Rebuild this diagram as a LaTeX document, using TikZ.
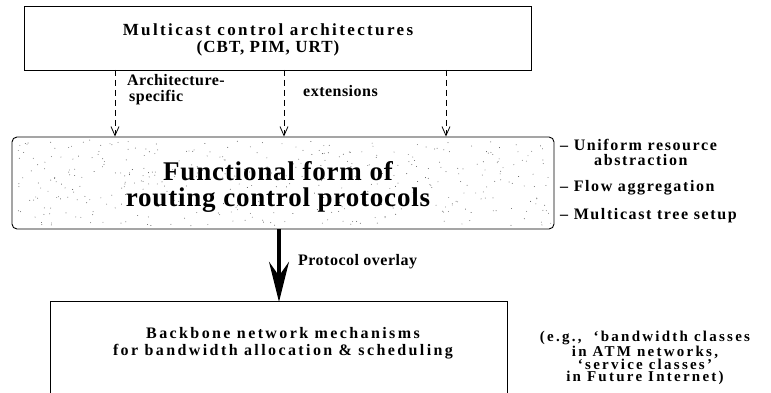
\documentclass[tikz,border=0pt]{standalone}
\usepackage{fontspec}
\setmainfont{Liberation Serif}
\usetikzlibrary{arrows.meta,calc}
\begin{document}
\begin{tikzpicture}[x=1pt,y=-1pt,
  frame/.style={draw, line width=0.9pt, inner sep=0pt},
  txt/.style={inner sep=0pt, font=\bfseries\fontsize{16}{16}\selectfont\addfontfeatures{LetterSpace=3}},
  feat/.style={inner sep=0pt, anchor=west, font=\bfseries\fontsize{16}{16}\selectfont\addfontfeatures{LetterSpace=10}},
  dasharrow/.style={line width=0.8pt, dash pattern=on 6pt off 4pt,
    -{Straight Barb[length=9pt,width=8pt,line width=0.8pt]}},
  bigarrow/.style={line width=3.8pt,
    -{Stealth[length=40pt,width=20pt,inset=14pt]}}]
\useasboundingbox (0,0) rectangle (771,393);

% upper box: multicast architectures
\node[frame, minimum width=507pt, minimum height=64pt] (arch) at (277.5,38) {};
\node[inner sep=0pt, align=center, font=\bfseries\fontsize{17}{17}\selectfont]
  (archtxt) at (268,40)
  {{\addfontfeatures{LetterSpace=14}Multicast control architectures}\\
   {\addfontfeatures{LetterSpace=6}(CBT, PIM, URT)}};

% middle box: functional form, stippled
\node[frame, rounded corners=5pt, minimum width=542pt, minimum height=92pt] (fn) at (283,183) {};
\begin{scope}
  \pgfmathsetseed{42}
  \clip[rounded corners=5pt] (fn.south west) rectangle (fn.north east);
  \foreach \i in {1,...,420}{
    \pgfmathsetmacro{\px}{15+536*rnd}
    \pgfmathsetmacro{\py}{140+86*rnd}
    \fill[black!70] (\px,\py) circle (0.45pt);
  }
\end{scope}
\node[inner sep=0pt, align=center,
      font=\bfseries\fontsize{27}{26}\selectfont\addfontfeatures{LetterSpace=3}]
  (fntxt) at (278,187) {Functional form of\\routing control protocols};

% bottom box: backbone mechanisms, open at the lower edge
\node[minimum width=456pt, minimum height=110pt, inner sep=0pt] (bb) at (279,357) {};
\draw[line width=0.9pt] (bb.south west) |- (bb.north east) -- (bb.south east);
\node[inner sep=0pt, align=center,
      font=\bfseries\fontsize{16}{17}\selectfont\addfontfeatures{LetterSpace=15}]
  (bbtxt) at (283,343) {Backbone network mechanisms\\for bandwidth allocation \& scheduling};

% dashed arrows from the architectures to the functional form
\coordinate (d1) at (115,70);
\coordinate (d2) at (284,70);
\coordinate (d3) at (446,70);
\foreach \c in {d1,d2,d3}
  \draw[dasharrow] (\c) -- (\c |- fn.north);

\node[txt, anchor=west, align=left] (archsp) at (127,90) {Architecture-\\\hspace*{2pt}specific};
\node[txt, anchor=west] (ext) at (303,91) {extensions};

% protocol overlay arrow
\draw[bigarrow] (fn.south -| bb.north) -- (bb.north);
\node[txt, anchor=west] (ovl) at (298,262) {Protocol overlay};

% features of the functional form
\node[feat] (f1) at (560,145) {\textendash\ Uniform resource};
\node[feat] (f1b) at (594,160) {abstraction};
\node[feat] (f2) at (560,188) {\textendash\ Flow aggregation};
\node[feat] (f3) at (560,216) {\textendash\ Multicast tree setup};

% examples beside the backbone box
\node[inner sep=0pt, align=center,
      font=\bfseries\fontsize{15}{12}\selectfont\addfontfeatures{LetterSpace=15}]
  (eg) at (645,358) {(e.g.,\ \ `bandwidth classes\\in ATM networks,\\`service classes'\\in Future Internet)};
\end{tikzpicture}
\end{document}
